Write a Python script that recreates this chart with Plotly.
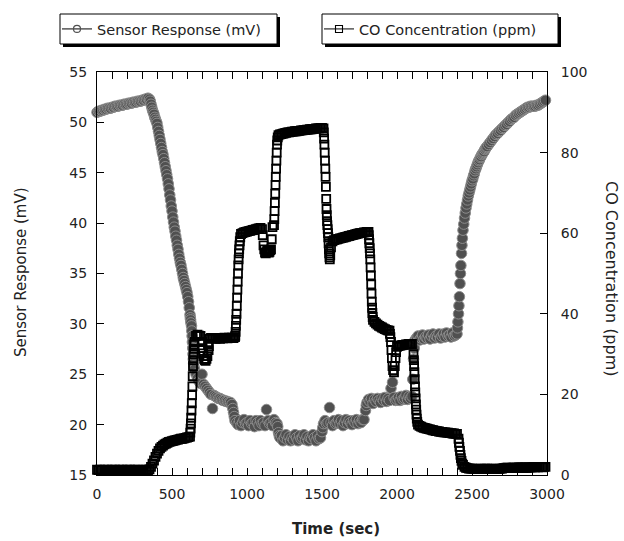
import numpy as np
import plotly.graph_objects as go

# regular readings, one every 10 s
time_s = np.arange(0, 3000, 10)

sensor_mv = [
    51.0, 51.1, 51.1, 51.2, 51.2, 51.3, 51.3, 51.4, 51.4, 51.4,
    51.5, 51.5, 51.6, 51.6, 51.6, 51.7, 51.7, 51.7, 51.8, 51.8,
    51.8, 51.9, 51.9, 51.9, 52.0, 52.0, 52.0, 52.1, 52.1, 52.1,
    52.2, 52.2, 52.3, 52.3, 52.4, 52.3, 51.8, 51.2, 50.8, 50.3,
    49.9, 49.1, 48.3, 47.5, 46.8, 46.0, 45.2, 44.4, 43.4, 42.3,
    41.2, 40.1, 39.2, 38.3, 37.4, 36.5, 35.8, 35.0, 34.3, 33.7,
    33.1, 32.2, 30.9, 29.8, 27.0, 25.5, 25.0, 24.6, 24.3, 24.1,
    25.0, 24.0, 23.8, 23.6, 23.4, 23.2, 23.0, 21.6, 22.9, 22.8,
    22.7, 22.6, 22.6, 22.5, 22.4, 22.4, 22.3, 22.3, 22.2, 22.2,
    22.0, 21.2, 20.4, 20.2, 20.0, 20.4, 19.9, 20.2, 20.5, 20.1,
    20.2, 19.9, 20.4, 20.1, 20.2, 19.8, 20.4, 20.2, 19.9, 20.4,
    20.1, 20.2, 19.9, 21.5, 20.4, 20.1, 20.2, 19.9, 20.5, 20.2,
    20.1, 19.2, 18.7, 18.9, 18.4, 18.7, 19.0, 18.5, 18.8, 18.4,
    18.7, 18.5, 19.0, 18.7, 18.4, 18.9, 18.6, 18.7, 19.0, 18.5,
    18.8, 18.4, 18.7, 18.6, 19.0, 18.7, 18.4, 18.9, 18.6, 18.7,
    19.3, 20.1, 20.4, 20.1, 20.2, 21.7, 20.2, 19.9, 20.4, 20.1,
    20.2, 20.5, 20.1, 20.4, 19.9, 20.2, 20.5, 20.1, 20.4, 20.2,
    20.0, 20.4, 20.2, 20.5, 20.1, 20.4, 20.2, 20.5, 20.5, 21.4,
    22.2, 22.5, 22.3, 22.6, 22.1, 22.5, 22.3, 22.6, 22.4, 22.2,
    22.6, 22.4, 22.7, 22.3, 22.6, 22.4, 23.6, 24.2, 22.7, 22.4,
    22.5, 22.7, 22.4, 22.8, 22.5, 22.6, 22.9, 22.5, 22.8, 22.6,
    22.8, 26.5, 28.4, 28.6, 28.8, 28.4, 28.6, 28.9, 28.5, 28.7,
    28.6, 28.9, 28.5, 28.8, 29.0, 28.6, 28.8, 28.7, 29.0, 28.6,
    28.8, 29.0, 28.7, 29.1, 28.8, 28.9, 28.7, 29.1, 28.8, 28.9,
    29.0, 31.0, 34.0, 37.0, 39.3, 40.5, 41.5, 42.3, 43.0, 43.6,
    44.2, 44.7, 45.2, 45.6, 46.0, 46.3, 46.6, 46.9, 47.1, 47.4,
    47.6, 47.8, 48.0, 48.2, 48.4, 48.6, 48.8, 48.9, 49.1, 49.2,
    49.4, 49.5, 49.7, 49.8, 50.0, 50.1, 50.3, 50.4, 50.5, 50.7,
    50.8, 50.9, 51.0, 51.1, 51.2, 51.3, 51.4, 51.5, 51.5, 51.6,
    51.6, 51.6, 51.6, 51.7, 51.7, 51.8, 51.9, 52.0, 52.1, 52.2,
]

# extra sensor readings taken during fast changes
sensor_extra_t = [355, 365, 375, 385, 395, 405, 415, 425, 435, 445,
                  455, 465, 475, 485, 495, 505, 515, 525, 535, 545,
                  555, 565, 575, 585, 595, 605, 615,
                  622, 624, 626, 632, 634, 636, 638, 642, 644, 646,
                  905, 915, 1205, 1215, 1505, 1795, 2105, 2115,
                  2403, 2406, 2413, 2416, 2423, 2426, 2433, 2436,
                  2445, 2455, 2465, 2475, 2485, 2495, 2505, 2515,
                  2525, 2535, 2545, 2555, 2565, 2575, 2585, 2595]
sensor_extra_mv = [52.1, 51.5, 51.0, 50.5, 50.1, 49.5, 48.7, 47.9, 47.1, 46.4,
                   45.6, 44.8, 43.9, 42.8, 41.7, 40.6, 39.6, 38.7, 37.8, 36.9,
                   36.1, 35.4, 34.6, 34.0, 33.4, 32.7, 31.6,
                   30.6, 30.4, 30.1, 29.3, 28.8, 28.2, 27.6, 26.5, 26.1, 25.8,
                   21.6, 20.8, 19.8, 18.9, 19.7, 21.9, 24.5, 27.6,
                   29.6, 30.2, 31.8, 32.7, 35.0, 35.8, 37.8, 38.5,
                   39.9, 41.0, 41.9, 42.7, 43.3, 43.9, 44.4, 44.9,
                   45.4, 45.8, 46.2, 46.5, 46.8, 47.0, 47.3, 47.5]

co_ppm = [
    1.3, 1.2, 1.3, 1.2, 1.2, 1.3, 1.2, 1.3, 1.2, 1.2,
    1.3, 1.2, 1.3, 1.2, 1.2, 1.3, 1.2, 1.3, 1.2, 1.2,
    1.3, 1.2, 1.3, 1.2, 1.2, 1.3, 1.2, 1.3, 1.2, 1.2,
    1.2, 1.3, 1.2, 1.3, 1.2, 1.4, 2.0, 2.8, 3.6, 4.5,
    5.3, 6.0, 6.6, 7.0, 7.3, 7.6, 7.8, 8.0, 8.2, 8.3,
    8.4, 8.5, 8.6, 8.7, 8.8, 8.9, 9.0, 9.0, 9.1, 9.2,
    9.3, 9.4, 9.5, 16.0, 27.0, 33.0, 34.5, 34.8, 34.6, 34.5,
    33.0, 29.5, 28.5, 28.8, 32.5, 33.8, 34.0, 33.9, 34.0, 33.8,
    33.9, 34.0, 33.8, 34.0, 33.9, 34.1, 34.0, 33.9, 34.1, 34.0,
    34.1, 34.0, 34.2, 40.0, 50.0, 57.0, 59.8, 60.0, 60.2, 60.3,
    60.4, 60.5, 60.6, 60.7, 60.8, 60.9, 61.0, 61.1, 61.2, 61.3,
    61.0, 57.0, 55.2, 55.3, 55.5, 55.4, 56.0, 61.5, 62.0, 72.0,
    82.0, 84.3, 84.5, 84.6, 84.7, 84.8, 84.9, 85.0, 85.0, 85.1,
    85.2, 85.2, 85.3, 85.3, 85.4, 85.4, 85.5, 85.5, 85.6, 85.6,
    85.7, 85.7, 85.8, 85.8, 85.9, 85.9, 86.0, 86.0, 86.0, 86.1,
    86.1, 86.0, 78.0, 66.0, 60.0, 54.0, 56.5, 58.0, 58.3, 58.4,
    58.5, 58.6, 58.7, 58.8, 58.9, 59.0, 59.1, 59.2, 59.3, 59.4,
    59.5, 59.6, 59.7, 59.8, 59.9, 60.0, 60.0, 60.1, 60.2, 60.2,
    60.3, 60.3, 55.0, 45.0, 38.5, 38.0, 37.6, 37.3, 37.0, 36.8,
    36.6, 36.4, 36.2, 36.0, 35.9, 35.8, 33.0, 27.0, 25.5, 29.0,
    31.8, 32.0, 32.1, 32.2, 32.3, 32.3, 32.4, 32.4, 32.5, 32.5,
    32.5, 30.0, 22.0, 15.0, 12.5, 12.2, 12.0, 11.8, 11.7, 11.6,
    11.5, 11.4, 11.3, 11.2, 11.1, 11.0, 10.9, 10.9, 10.8, 10.7,
    10.7, 10.6, 10.6, 10.5, 10.5, 10.4, 10.4, 10.3, 10.3, 10.2,
    10.2, 9.0, 6.0, 3.5, 2.5, 2.0, 1.8, 1.7, 1.6, 1.6,
    1.6, 1.5, 1.5, 1.6, 1.5, 1.5, 1.6, 1.5, 1.5, 1.6,
    1.6, 1.5, 1.5, 1.6, 1.5, 1.5, 1.6, 1.5, 1.5, 1.6,
    1.6, 1.7, 1.7, 1.8, 1.8, 1.7, 1.7, 1.8, 1.8, 1.7,
    1.8, 1.9, 1.8, 1.9, 1.8, 1.9, 1.8, 1.8, 1.9, 1.9,
    1.9, 2.0, 1.9, 2.0, 1.9, 2.0, 2.0, 1.9, 2.0, 2.0,
]

# extra CO readings taken during the concentration steps
co_extra_t = [622, 624, 626, 628, 632, 634, 636, 638, 642, 644, 646, 648,
              704, 707, 714, 724, 736, 744, 746,
              922, 924, 926, 928, 932, 934, 936, 938, 942, 944, 946, 948, 952, 955,
              1105, 1115, 1125, 1135, 1145, 1155, 1165,
              1182, 1184, 1186, 1188, 1192, 1194, 1196, 1198, 1202, 1205,
              1512, 1514, 1516, 1518, 1522, 1524, 1526, 1528, 1532, 1534, 1536, 1538,
              1542, 1544, 1546, 1548, 1552, 1555,
              1812, 1814, 1816, 1818, 1822, 1824, 1826, 1828, 1832, 1834, 1836, 1838,
              1953, 1956, 1963, 1966, 1974, 1985, 1994,
              2112, 2114, 2116, 2118, 2122, 2124, 2126, 2128, 2132, 2135,
              2413, 2416, 2423, 2426, 2435]
co_extra_ppm = [10.5, 11.5, 12.8, 14.2, 17.8, 19.8, 22.0, 24.5, 28.5, 30.0, 31.3, 32.3,
                31.5, 30.2, 28.8, 28.3, 29.5, 31.0, 32.0,
                34.5, 35.5, 37.0, 38.5, 42.0, 44.0, 46.0, 48.0, 52.0, 53.5, 55.0, 56.0, 58.0, 59.0,
                59.5, 56.0, 55.0, 55.6, 55.2, 55.8, 58.5,
                63.5, 65.5, 67.5, 69.8, 74.0, 76.0, 78.0, 80.0, 83.0, 83.8,
                85.0, 83.5, 82.0, 80.0, 76.0, 74.0, 71.5, 68.5, 64.5, 63.0, 62.0, 61.0,
                59.0, 57.5, 56.0, 55.0, 53.5, 54.5,
                59.5, 58.5, 57.5, 56.3, 53.5, 51.5, 49.5, 47.3, 43.0, 41.5, 40.2, 39.2,
                35.0, 34.2, 31.0, 29.0, 26.0, 27.0, 30.5,
                28.5, 27.0, 25.5, 23.8, 20.5, 19.0, 17.5, 16.2, 14.0, 13.2,
                8.0, 7.0, 5.0, 4.2, 2.8]

x_ticks = [0, 500, 1000, 1500, 2000, 2500, 3000]
y_left_ticks = [15, 20, 25, 30, 35, 40, 45, 50, 55]
y_right_ticks = [0, 20, 40, 60, 80, 100]


def merged(t_main, v_main, t_extra, v_extra):
    t = np.concatenate([np.asarray(t_main, float), np.asarray(t_extra, float)])
    v = np.concatenate([np.asarray(v_main, float), np.asarray(v_extra, float)])
    order = np.argsort(t, kind="stable")
    return t[order], v[order]


s_t, s_v = merged(time_s, sensor_mv, sensor_extra_t, sensor_extra_mv)
c_t, c_v = merged(time_s, co_ppm, co_extra_t, co_extra_ppm)

FONT = "DejaVu Sans"
GRAY = "#505050"
TXT = "#222222"

fig = go.Figure()
fig.add_trace(go.Scatter(
    x=s_t, y=s_v, mode="markers", showlegend=False, cliponaxis=False,
    marker=dict(symbol="circle", size=10.5, color=GRAY, line=dict(width=1, color="#8c8c8c")),
    yaxis="y"))
fig.add_trace(go.Scatter(
    x=c_t, y=c_v, mode="markers", showlegend=False, cliponaxis=False,
    marker=dict(symbol="square-open", size=8, color="#000000", line=dict(width=1.8, color="#000000")),
    yaxis="y2"))
# legend entries
fig.add_trace(go.Scatter(
    x=[None], y=[None], mode="lines+markers", name="Sensor Response (mV)",
    line=dict(color="#000000", width=1),
    marker=dict(symbol="circle-open", size=7, color=GRAY, line=dict(width=1.2, color=GRAY)),
    legend="legend"))
fig.add_trace(go.Scatter(
    x=[None], y=[None], mode="lines+markers", name="CO Concentration (ppm)",
    line=dict(color="#000000", width=1),
    marker=dict(symbol="square-open", size=7, color="#000000", line=dict(width=1.1, color="#000000")),
    legend="legend2", yaxis="y2"))

L, R, T, B = 97, 547, 72, 475
W, H = 624, 541


def px(xp):
    return (xp - L) / (R - L)


def py(yp):
    return (B - yp) / (B - T)


shapes = []
for (x0, x1) in [(60, 277), (322, 558)]:
    y0, y1 = 14, 44
    shapes.append(dict(type="rect", xref="paper", yref="paper",
                       x0=px(x0 + 3), x1=px(x1 + 3), y0=py(y1 + 3), y1=py(y0 + 3),
                       fillcolor="#000000", line=dict(width=0), layer="above"))
    shapes.append(dict(type="rect", xref="paper", yref="paper",
                       x0=px(x0), x1=px(x1), y0=py(y1), y1=py(y0),
                       fillcolor="#ffffff", line=dict(width=1, color="#000000"), layer="above"))

legend_common = dict(bgcolor="rgba(0,0,0,0)", borderwidth=0,
                     font=dict(family=FONT, size=14.5, color=TXT),
                     yanchor="middle", xanchor="left", itemwidth=30)

fig.update_layout(
    width=W, height=H,
    margin=dict(l=L, r=W - R, t=T, b=H - B),
    paper_bgcolor="white", plot_bgcolor="white",
    font=dict(family=FONT, size=14, color=TXT),
    shapes=shapes,
    legend=dict(x=px(57), y=py(29), **legend_common),
    legend2=dict(x=px(319), y=py(29), **legend_common),
    xaxis=dict(range=[0, 3000], tickvals=x_ticks, ticks="inside", ticklen=7,
               tickcolor="#000", showline=True, linecolor="#000", linewidth=1,
               mirror="allticks", showgrid=False, zeroline=False,
               minor=dict(dtick=100, ticks="inside", ticklen=4, tickcolor="#000", showgrid=False),
               tickfont=dict(family=FONT, size=14, color=TXT), ticklabelstandoff=6),
    yaxis=dict(range=[15, 55], tickvals=y_left_ticks, ticks="inside", ticklen=7,
               tickcolor="#000", showline=True, linecolor="#000", linewidth=1,
               showgrid=False, zeroline=False,
               tickfont=dict(family=FONT, size=14, color=TXT), ticklabelstandoff=6),
    yaxis2=dict(range=[0, 100], tickvals=y_right_ticks, ticks="inside", ticklen=7,
                tickcolor="#000", showline=True, linecolor="#000", linewidth=1,
                overlaying="y", side="right", showgrid=False, zeroline=False,
                tickfont=dict(family=FONT, size=14, color=TXT), ticklabelstandoff=10),
    annotations=[
        dict(text="Sensor Response (mV)", xref="paper", yref="paper",
             x=px(21), y=py(272), xanchor="center", yanchor="middle",
             textangle=-90, showarrow=False,
             font=dict(family=FONT, size=15, color=TXT)),
        dict(text="CO Concentration (ppm)", xref="paper", yref="paper",
             x=px(612), y=py(279), xanchor="center", yanchor="middle",
             textangle=90, showarrow=False,
             font=dict(family=FONT, size=16, color=TXT)),
        dict(text="<b>Time (sec)</b>", xref="paper", yref="paper",
             x=px(336), y=py(529), xanchor="center", yanchor="middle",
             showarrow=False,
             font=dict(family=FONT, size=15, color=TXT)),
    ],
)

fig.write_html("out.html", config={"displayModeBar": False},
               post_script="document.body.style.margin='0px';")
